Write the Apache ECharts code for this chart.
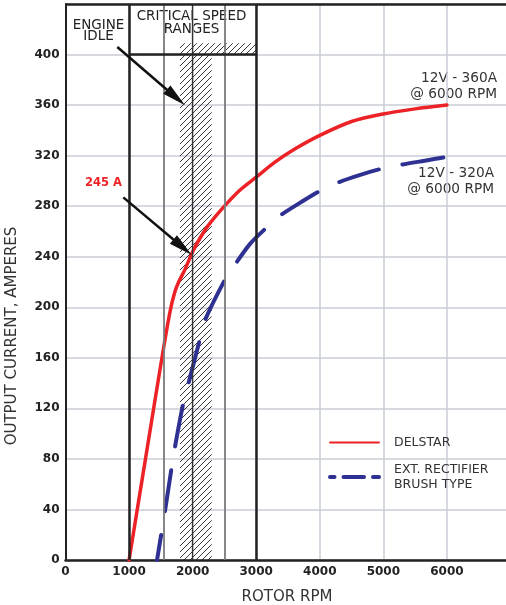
<!DOCTYPE html>
<html><head><meta charset="utf-8">
<script src="https://cdn.jsdelivr.net/npm/echarts@6/dist/echarts.min.js"></script>
<style>html,body{margin:0;padding:0;background:#fff;overflow:hidden}#c{width:506px;height:605px}</style>
</head><body><div id="c"></div>
<script>
// ---- data ----
const delstarRpm  = [1000,1200,1400,1550,1650,1720,1780,1880,2000,2120,2250,2500,2750,3000,3300,3600,4000,4500,5000,5500,6000];
const delstarAmps = [0,62,124,170,198,212,220,230,244,255,265,280,293,303,315,325,336,347,353,357,360];
const brushRpm  = [1440,1550,1660,1710,1840,1925,2100,2180,2500,2670,2900,3140,3390,3700,4000,4300,4650,5000,5300,5650,6000];
const brushAmps = [0,34,70,86,121,138,172,188,221,234,250,262,273,283,292,299,305,310,313,316,319];
const xTickLabels = [0,1000,2000,3000,4000,5000,6000];
const yTickLabels = [0,40,80,120,160,200,240,280,320,360,400];
const xAxisMax = 6930;
const plotTopAmps = 440;
const criticalRange = [1000, 3000];
const rangeTopAmps = 400;
const hatchBand = [1800, 2300];
const hatchStripTop = 409;
const innerLinesGray = [1550, 2500];
const innerLineDark = 2000;
const idleArrow = [[815, 406], [1737, 366]];
const peakArrow = [[909, 287], [1842, 247.5]];
const seriesNames = ['DELSTAR', 'EXT. RECTIFIER\nBRUSH TYPE'];

const FONT = 'DejaVu Sans';
const RED = '#ec2227', BLUE = '#2e3192', INK = '#222';

function hatchCanvas(){
  const c = document.createElement('canvas'); c.width = 6; c.height = 6;
  const g = c.getContext('2d'); g.strokeStyle = '#222'; g.lineWidth = 0.9;
  g.beginPath();
  g.moveTo(0,6); g.lineTo(6,0);
  g.moveTo(-1,1); g.lineTo(1,-1);
  g.moveTo(5,7); g.lineTo(7,5);
  g.stroke();
  return c;
}
const hatchFill = {image: hatchCanvas(), repeat: 'repeat'};

const zip = (a,b) => a.map((v,i)=>[v,b[i]]);

const chart = echarts.init(document.getElementById('c'), null, {renderer:'canvas'});
chart.setOption({
  animation: false,
  backgroundColor: '#fff',
  grid: {left: 65.5, top: 4, width: 445 * xAxisMax / 7000, height: 556, outerBoundsMode: 'none', containLabel: false, show: false},
  xAxis: {
    type: 'value', min: 0, max: xAxisMax, interval: 1000,
    axisLine: {show: true, onZero: false, lineStyle: {color: INK, width: 2.5}},
    axisTick: {show: false},
    axisLabel: {margin: 6, color: INK, fontFamily: FONT, fontWeight: 'bold', fontSize: 12, showMaxLabel: false,
      formatter: v => xTickLabels.includes(v) ? String(v) : ''},
    splitLine: {show: true, showMaxLine: false, lineStyle: {color: '#c8ccd5', width: 1.5}}
  },
  yAxis: {
    type: 'value', min: 0, max: plotTopAmps, interval: 40,
    axisLine: {show: true, onZero: false, lineStyle: {color: INK, width: 2}},
    axisTick: {show: false},
    axisLabel: {margin: 6, color: INK, fontFamily: FONT, fontWeight: 'bold', fontSize: 12,
      formatter: v => yTickLabels.includes(v) ? String(v) : ''},
    splitLine: {show: true, lineStyle: {color: '#c8ccd5', width: 1.5}}
  },
  legend: {
    data: [
      {name: seriesNames[0]},
      {name: seriesNames[1], lineStyle: {type: [20.5, 9], width: 4, cap: 'round'}}
    ],
    orient: 'vertical', left: 328, top: 435, padding: 0, itemWidth: 49, itemHeight: 14, itemGap: 12,
    selectedMode: false,
    itemStyle: {opacity: 0, color: 'transparent', borderWidth: 0},
    textStyle: {fontFamily: FONT, fontSize: 12.5, color: '#333', lineHeight: 15, padding: [0,0,0,10]}
  },
  series: [
    {
      name: 'ranges', type: 'line', data: [], z: 1, silent: true,
      markArea: {
        silent: true,
        itemStyle: {color: hatchFill, borderWidth: 0},
        data: [
          [{coord: [hatchBand[0], 0]}, {coord: [hatchBand[1], rangeTopAmps]}],
          [{coord: [hatchBand[0], rangeTopAmps]}, {coord: [criticalRange[1], hatchStripTop]}]
        ]
      },
      markLine: {
        silent: true, symbol: ['none','none'], label: {show: false},
        data: [
          {xAxis: innerLinesGray[0], lineStyle: {color: '#7a7a7a', width: 1.8, type: 'solid'}},
          {xAxis: innerLinesGray[1], lineStyle: {color: '#7a7a7a', width: 1.8, type: 'solid'}},
          {xAxis: innerLineDark, lineStyle: {color: '#333', width: 1.3, type: 'solid'}},
          {xAxis: criticalRange[0], lineStyle: {color: INK, width: 2.5, type: 'solid'}},
          {xAxis: criticalRange[1], lineStyle: {color: INK, width: 2.5, type: 'solid'}},
          {yAxis: plotTopAmps, lineStyle: {color: INK, width: 2.5, type: 'solid'}},
          [{coord: [criticalRange[0], rangeTopAmps], lineStyle: {color: INK, width: 2.5, type: 'solid'}},
           {coord: [criticalRange[1], rangeTopAmps]}]
        ]
      }
    },
    {
      name: seriesNames[0], type: 'line', z: 3, showSymbol: false, symbol: 'none', smooth: 0.3,
      data: zip(delstarRpm, delstarAmps),
      lineStyle: {color: RED, width: 3.5, cap: 'round'}, itemStyle: {color: RED}
    },
    {
      name: seriesNames[1], type: 'line', z: 3, showSymbol: false, symbol: 'none', smooth: 0.3,
      data: zip(brushRpm, brushAmps),
      lineStyle: {color: BLUE, width: 4, type: [41.3, 24.3], dashOffset: 16, cap: 'round'}, itemStyle: {color: BLUE}
    },
    {
      name: 'arrows', type: 'line', data: [], z: 5, silent: true,
      markLine: {
        silent: true, symbol: ['none','triangle'], symbolSize: [11, 24],
        label: {show: false},
        lineStyle: {color: '#111', width: 2.5, type: 'solid'},
        itemStyle: {color: '#111'},
        data: [
          [{coord: idleArrow[0]}, {coord: idleArrow[1]}],
          [{coord: peakArrow[0]}, {coord: peakArrow[1]}]
        ]
      }
    }
  ],
  graphic: [
    {type: 'text', x: 12, y: 336, rotation: Math.PI/2, silent: true,
      style: {text: 'OUTPUT CURRENT, AMPERES', font: '15px "DejaVu Sans"', fill: '#333', align: 'center', verticalAlign: 'middle'}},
    {type: 'text', x: 287, y: 597, silent: true,
      style: {text: 'ROTOR RPM', font: '15px "DejaVu Sans"', fill: '#333', align: 'center', verticalAlign: 'middle'}},
    {type: 'text', x: 98.5, y: 31, silent: true,
      style: {text: 'ENGINE\nIDLE', font: '13.5px "DejaVu Sans"', lineHeight: 11, fill: '#222', align: 'center', verticalAlign: 'middle'}},
    {type: 'text', x: 191.5, y: 22.5, silent: true,
      style: {text: 'CRITICAL SPEED\nRANGES', font: '13.5px "DejaVu Sans"', lineHeight: 13, fill: '#222', align: 'center', verticalAlign: 'middle'}},
    {type: 'text', x: 103.5, y: 183.5, silent: true,
      style: {text: '245 A', font: 'bold 11.5px "DejaVu Sans"', fill: RED, align: 'center', verticalAlign: 'middle'}},
    {type: 'text', x: 497, y: 86, silent: true,
      style: {text: '12V - 360A\n@ 6000 RPM', font: '13.7px "DejaVu Sans"', lineHeight: 16, fill: '#333', align: 'right', verticalAlign: 'middle'}},
    {type: 'text', x: 494, y: 181.5, silent: true,
      style: {text: '12V - 320A\n@ 6000 RPM', font: '13.7px "DejaVu Sans"', lineHeight: 16, fill: '#333', align: 'right', verticalAlign: 'middle'}}
  ]
});
</script>
</body></html>
